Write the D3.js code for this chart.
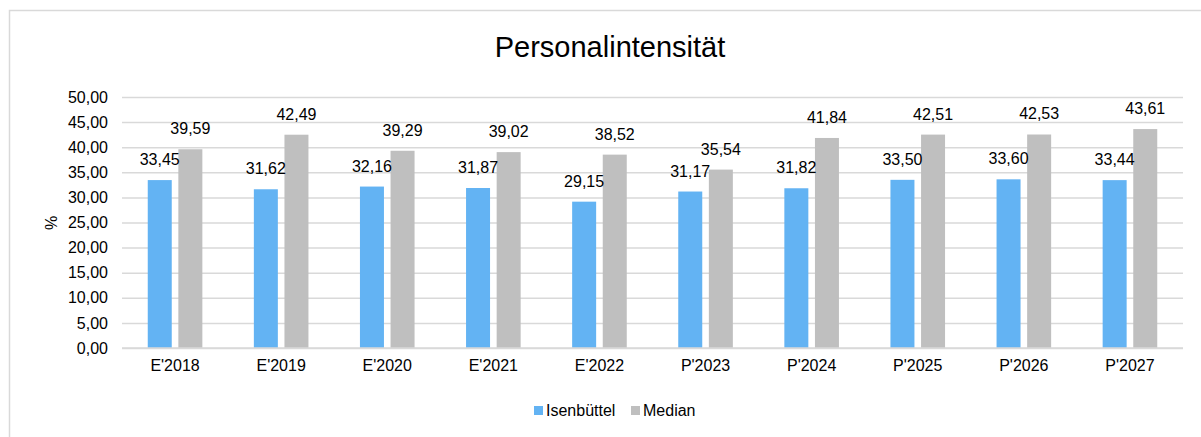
<!DOCTYPE html>
<html>
<head>
<meta charset="utf-8">
<script src="https://cdn.jsdelivr.net/npm/d3@7"></script>
<style>
  body { margin: 0; background: #fff; }
  text { font-family: "Liberation Sans", Arial, sans-serif; fill: #000; }
</style>
</head>
<body>
<div id="chart"></div>
<script>
// categories and series
var years = ["E'2018", "E'2019", "E'2020", "E'2021", "E'2022", "P'2023", "P'2024", "P'2025", "P'2026", "P'2027"];
var seriesNames = ["Isenbüttel", "Median"];
var isenbuettel = [33.45, 31.62, 32.16, 31.87, 29.15, 31.17, 31.82, 33.50, 33.60, 33.44];
var median = [39.59, 42.49, 39.29, 39.02, 38.52, 35.54, 41.84, 42.51, 42.53, 43.61];
var yTicks = [0, 5, 10, 15, 20, 25, 30, 35, 40, 45, 50];

var colors = {"Isenbüttel": "#63b3f3", "Median": "#bfbfbf"};

var W = 1201, H = 437;
var margin = {top: 97, right: 18, bottom: 89, left: 122};
var width = W - margin.left - margin.right;
var height = H - margin.top - margin.bottom;

var de = d3.formatLocale({decimal: ",", thousands: ".", grouping: [3], currency: ["", " €"]});
var fmt = de.format(".2f");

var svg = d3.select("#chart").append("svg")
    .attr("width", W)
    .attr("height", H);

// chart border
svg.append("rect")
    .attr("x", 9.5).attr("y", 10.5)
    .attr("width", 1202).attr("height", 440)
    .attr("fill", "none")
    .attr("stroke", "#d9d9d9")
    .attr("stroke-width", 1.5);

svg.append("text")
    .text("Personalintensität")
    .attr("x", 610)
    .attr("y", 57)
    .attr("text-anchor", "middle")
    .style("font-size", "29px");

var g = svg.append("g")
    .attr("transform", "translate(" + margin.left + "," + margin.top + ")");

var x0 = d3.scaleBand().domain(years).range([0, width]).padding(0);
var half = 27.3;
var x1 = d3.scaleBand().domain(seriesNames)
    .range([x0.bandwidth() / 2 - half, x0.bandwidth() / 2 + half])
    .paddingInner(0.216).paddingOuter(0);
var y = d3.scaleLinear().domain([0, 50]).range([height, 0]);

// gridlines
var yAxis = d3.axisLeft(y).tickValues(yTicks).tickSize(-width).tickFormat(fmt).tickPadding(14);
var ga = g.append("g").attr("class", "y-axis").call(yAxis);
ga.select(".domain").remove();
ga.selectAll("line").attr("stroke", "#d9d9d9").attr("stroke-width", 1.5);
ga.selectAll("text").style("font-size", "16px");

// y axis title
svg.append("text")
    .text("%")
    .attr("transform", "translate(57,223) rotate(-90)")
    .attr("text-anchor", "middle")
    .style("font-size", "16px");

var rows = years.map(function (yr, i) {
  return {year: yr, values: [
    {name: "Isenbüttel", v: isenbuettel[i]},
    {name: "Median", v: median[i]}
  ]};
});

var groups = g.selectAll("g.cat")
    .data(rows)
    .enter().append("g")
    .attr("class", "cat")
    .attr("transform", function (d) { return "translate(" + x0(d.year) + ",0)"; });

groups.selectAll("rect")
    .data(function (d) { return d.values; })
    .enter().append("rect")
    .attr("x", function (d) { return x1(d.name); })
    .attr("width", x1.bandwidth())
    .attr("y", function (d) { return y(d.v); })
    .attr("height", function (d) { return height - y(d.v); })
    .attr("fill", function (d) { return colors[d.name]; });

groups.selectAll("text.lbl")
    .data(function (d) { return d.values; })
    .enter().append("text")
    .attr("class", "lbl")
    .attr("x", function (d) { return x1(d.name) + x1.bandwidth() / 2; })
    .attr("y", function (d) { return y(d.v) - 15; })
    .attr("text-anchor", "middle")
    .style("font-size", "16px")
    .text(function (d) { return fmt(d.v); });

// baseline on top of bars
g.append("line")
    .attr("x1", 0).attr("x2", width)
    .attr("y1", height).attr("y2", height)
    .attr("stroke", "#d9d9d9").attr("stroke-width", 1.5);

// x axis labels
var xAxis = d3.axisBottom(x0).tickSize(0).tickPadding(12);
var gx = g.append("g").attr("transform", "translate(0," + height + ")").call(xAxis);
gx.select(".domain").remove();
gx.selectAll("text").style("font-size", "16px");

// legend
var legend = svg.append("g").attr("class", "legend");
var legX = [534, 631];
seriesNames.forEach(function (name, i) {
  legend.append("rect")
      .attr("x", legX[i]).attr("y", 406)
      .attr("width", 9).attr("height", 9)
      .attr("fill", colors[name]);
  legend.append("text")
      .attr("x", legX[i] + 12).attr("y", 416)
      .style("font-size", "16px")
      .text(name);
});
</script>
</body>
</html>
